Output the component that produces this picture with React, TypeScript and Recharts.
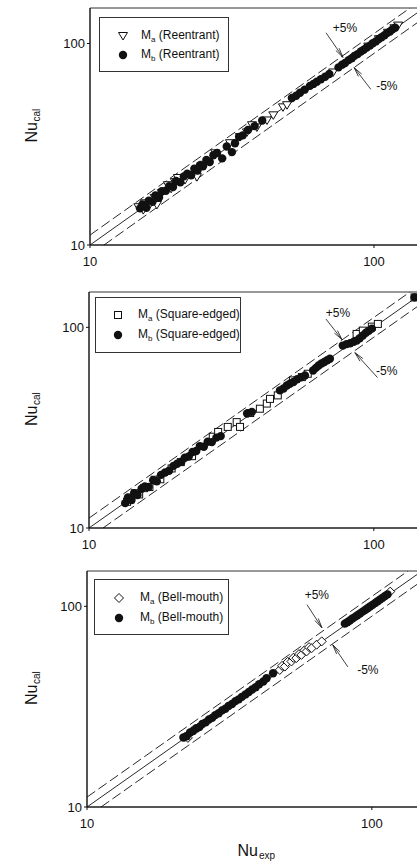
import React from 'react';
import {
  ScatterChart, Scatter, XAxis, YAxis, ReferenceLine, ReferenceDot, ReferenceArea, Legend,
} from 'recharts';

// Reentrant inlet
const maReX = [14.8, 15.4, 15.6, 16.3, 16.9, 17.2, 17.9, 18.8, 19.3, 19.9, 20.4, 21.6, 23.8, 25.2, 27.6, 31.1, 33.7, 35.7, 37.2, 38.7, 42.0, 44.2, 47.8, 49.4, 71.8, 95.5, 104, 112, 118, 121.6];
const maReY = [15.4, 14.9, 16.1, 16.0, 17.1, 15.8, 18.1, 19.8, 19.0, 20.5, 21.5, 21.0, 21.7, 25.0, 28.5, 32.0, 34.3, 36.2, 39.3, 38.3, 41.5, 44.0, 48.2, 49.4, 71.8, 96.5, 105, 113, 119, 122.7];
const mbReX = [15.0, 15.3, 15.8, 16.1, 16.6, 17.0, 17.5, 17.9, 18.5, 19.0, 19.6, 20.1, 20.8, 21.4, 22.0, 22.7, 23.3, 23.9, 24.4, 25.0, 25.7, 26.4, 27.2, 28.0, 29.2, 30.3, 31.6, 32.4, 33.5, 34.5, 36.0, 38.0, 40.4, 51.4, 53.2, 54.9, 57.0, 59.5, 61.2, 62.9, 65.0, 67.3, 69.6, 75.0, 77.2, 79.1, 81.4, 83.5, 85.3, 87.6, 89.9, 92.0, 94.3, 96.8, 99.0, 101.5, 104.0, 106.3, 108.9, 111.2, 113.8, 116.1, 118.7];
const mbReY = [15.2, 15.9, 15.3, 16.6, 16.4, 17.6, 17.2, 18.5, 18.6, 19.6, 19.4, 20.8, 20.5, 21.9, 22.6, 22.2, 23.9, 23.4, 24.9, 24.6, 26.4, 25.8, 27.9, 28.6, 26.9, 30.8, 28.9, 32.0, 34.4, 35.0, 37.2, 38.9, 41.5, 53.6, 55.0, 57.0, 59.0, 61.6, 63.0, 64.6, 66.4, 68.4, 70.6, 76.1, 78.5, 80.0, 82.7, 84.5, 86.8, 88.6, 91.2, 93.1, 95.5, 97.6, 100.3, 102.4, 105.2, 107.5, 109.8, 112.6, 114.7, 117.5, 119.6];

// Square-edged inlet
const maSqX = [13.6, 14.0, 14.5, 15.0, 15.6, 16.3, 17.0, 17.8, 19.5, 21.0, 23.0, 27.2, 28.4, 30.7, 33.0, 33.9, 36.8, 39.8, 42.1, 43.2, 46.0, 52.0, 55.9, 58.6, 87.0, 91.5, 98.4, 103.3, 139];
const maSqY = [13.5, 13.9, 14.9, 14.7, 15.8, 16.0, 17.4, 17.5, 19.8, 21.3, 22.8, 28.5, 30.1, 31.9, 33.7, 31.9, 37.4, 39.3, 41.7, 44.0, 45.8, 54.4, 56.5, 58.7, 92.7, 96.3, 100.8, 104.0, 141];
const mbSqX = [13.4, 13.7, 14.1, 14.4, 14.8, 15.3, 15.7, 16.2, 16.8, 17.3, 17.9, 18.5, 19.1, 19.8, 20.4, 21.1, 21.7, 22.4, 23.1, 23.8, 24.5, 25.3, 26.1, 27.0, 28.0, 29.0, 35.9, 37.3, 46.8, 48.2, 49.5, 50.7, 52.2, 53.8, 55.5, 57.3, 61.2, 62.6, 64.0, 65.5, 67.0, 68.6, 70.1, 77.8, 80.2, 82.6, 85.0, 87.1, 89.2, 91.5, 93.8, 96.0, 98.4, 139];
const mbSqY = [13.3, 14.2, 13.8, 14.9, 14.6, 15.7, 16.1, 16.0, 17.3, 17.1, 18.4, 18.9, 19.3, 20.4, 20.9, 21.4, 22.4, 22.7, 23.9, 24.2, 25.6, 25.4, 26.9, 26.8, 28.2, 28.7, 37.2, 37.9, 48.5, 49.6, 51.3, 52.3, 53.4, 55.1, 56.3, 57.5, 60.9, 62.8, 64.5, 66.0, 67.2, 68.5, 69.7, 81.1, 82.5, 83.3, 84.8, 85.9, 88.2, 91.0, 94.0, 96.1, 98.5, 141];

// Bell-mouth inlet
const maBmX = [22.1, 22.6, 23.4, 24.5, 47.5, 48.4, 49.5, 50.6, 52.2, 53.0, 54.3, 55.5, 56.6, 58.0, 59.0, 60.2, 61.5, 64.0, 66.7, 84.0, 97.0, 116.0];
const maBmY = [22.4, 22.1, 23.9, 24.8, 48.2, 50.5, 50.1, 52.8, 53.1, 55.4, 55.2, 57.8, 57.3, 60.4, 59.6, 62.6, 61.9, 64.4, 66.9, 85.2, 98.3, 118.4];
const mbBmX = [21.8, 22.4, 23.0, 23.6, 24.2, 24.8, 25.4, 26.1, 26.8, 27.5, 28.2, 29.0, 29.8, 30.6, 31.4, 32.3, 33.2, 34.1, 35.0, 36.0, 37.0, 38.0, 39.1, 40.2, 41.6, 42.7, 45.0, 80.4, 82.0, 83.7, 85.5, 87.3, 89.0, 90.9, 92.8, 94.7, 96.6, 98.6, 100.7, 102.8, 104.8, 106.9, 109.1, 111.3, 113.5];
const mbBmY = [22.2, 22.5, 23.5, 23.9, 24.7, 25.0, 25.9, 26.4, 27.3, 27.8, 28.7, 29.3, 30.3, 30.9, 31.9, 32.6, 33.7, 34.4, 35.4, 36.4, 37.4, 38.5, 39.5, 40.9, 42.2, 43.8, 46.4, 82.0, 83.3, 85.0, 86.9, 88.6, 90.2, 92.2, 94.1, 95.9, 97.9, 99.8, 101.9, 104.0, 106.1, 108.2, 110.3, 112.6, 114.7];

const axisTicks = [10, 100];
const domain: [number, number] = [10, 150];
const band = 1.12;

const FONT = '"Liberation Sans", Arial, Helvetica, sans-serif';
const INK = '#111';

const toPoints = (xs: number[], ys: number[]) => xs.map((x, i) => ({ x, y: ys[i] }));

const DownTriangle = ({ cx, cy }: any) => (
  <polygon points={`${cx - 4.5},${cy - 3.5} ${cx + 4.5},${cy - 3.5} ${cx},${cy + 4}`} fill="#fff" stroke={INK} strokeWidth={1} />
);
const Square = ({ cx, cy }: any) => (
  <rect x={cx - 3.5} y={cy - 3.5} width={7} height={7} fill="#fff" stroke={INK} strokeWidth={1} />
);
const Diamond = ({ cx, cy }: any) => (
  <polygon points={`${cx},${cy - 4.5} ${cx + 4.5},${cy} ${cx},${cy + 4.5} ${cx - 4.5},${cy}`} fill="#fff" stroke={INK} strokeWidth={1} />
);
const Dot = ({ cx, cy }: any) => <circle cx={cx} cy={cy} r={4.2} fill={INK} />;

const Arrow = ({ x1, y1, x2, y2 }: any) => {
  const a = Math.atan2(y2 - y1, x2 - x1);
  const len = 10;
  const spread = 0.2;
  const p1 = [x2 - len * Math.cos(a - spread), y2 - len * Math.sin(a - spread)];
  const p2 = [x2 - len * Math.cos(a + spread), y2 - len * Math.sin(a + spread)];
  return (
    <g stroke={INK} strokeWidth={0.8} fill="none">
      <line x1={x1} y1={y1} x2={x2} y2={y2} />
      <line x1={p1[0]} y1={p1[1]} x2={x2} y2={y2} />
      <line x1={p2[0]} y1={p2[1]} x2={x2} y2={y2} />
    </g>
  );
};

const YLabel = ({ viewBox }: any) => {
  const cy = viewBox.y + viewBox.height / 2;
  const ax = 37;
  return (
    <g fontFamily={FONT} fill={INK}>
      <text x={ax} y={cy + 16} transform={`rotate(-90 ${ax} ${cy + 16})`} fontSize={16}>Nu</text>
      <text x={ax + 3} y={cy - 5} transform={`rotate(-90 ${ax + 3} ${cy - 5})`} fontSize={10}>cal</text>
    </g>
  );
};

const XLabel = ({ viewBox }: any) => {
  const cx = viewBox.x + viewBox.width / 2;
  return (
    <g fontFamily={FONT} fill={INK}>
      <text x={cx - 17} y={viewBox.y + 49} fontSize={16}>Nu</text>
      <text x={cx + 4.5} y={viewBox.y + 52} fontSize={10}>exp</text>
    </g>
  );
};

interface PanelProps {
  top: number;
  height: number;
  left: number;
  right: number;
  bottom: number;
  ma: { x: number; y: number }[];
  mb: { x: number; y: number }[];
  shape: (p: any) => React.ReactElement;
  inlet: string;
  legend: { left: number; top: number; width: number; height: number; rows: [number, number]; sym: number; txt: number };
  plus: { text: [number, number]; from: [number, number]; to: [number, number] };
  minus: { text: [number, number]; from: [number, number]; to: [number, number] };
  xLabel?: boolean;
}

function LegendBox({ p }: { p: PanelProps }) {
  const lg = p.legend;
  const Shape = p.shape;
  const rows = [
    { sub: 'a', icon: <Shape cx={6} cy={6} /> },
    { sub: 'b', icon: <Dot cx={6} cy={6} /> },
  ];
  return (
    <div style={{ position: 'relative', width: lg.width, height: lg.height, border: `1px solid #333`, background: '#fff', boxSizing: 'border-box', fontFamily: FONT, fontSize: 12, color: INK }}>
      {rows.map((r, i) => (
        <React.Fragment key={r.sub}>
          <svg width={12} height={12} style={{ position: 'absolute', left: lg.sym - 6, top: lg.rows[i] - 6 }}>{r.icon}</svg>
          <div style={{ position: 'absolute', left: lg.txt, top: lg.rows[i] - 8, whiteSpace: 'nowrap', lineHeight: '14px' }}>
            M<span style={{ fontSize: 8, position: 'relative', top: 3 }}>{r.sub}</span> ({p.inlet})
          </div>
        </React.Fragment>
      ))}
    </div>
  );
}

function Panel(p: PanelProps) {
  const tickStyle = { fill: INK, fontSize: 13, fontFamily: FONT };
  return (
    <div style={{ position: 'absolute', left: 0, top: p.top }}>
      <ScatterChart width={440} height={p.height} margin={{ top: 8, right: p.right, bottom: p.bottom, left: 16 }}>
        <XAxis
          type="number" dataKey="x" scale="log" domain={domain} ticks={axisTicks} allowDataOverflow
          height={20} tickSize={3} tickMargin={9} tick={tickStyle}
          axisLine={{ stroke: INK }} tickLine={{ stroke: INK }}
          label={p.xLabel ? { content: XLabel } : undefined}
        />
        <YAxis
          type="number" dataKey="y" scale="log" domain={domain} ticks={axisTicks} allowDataOverflow
          width={p.left - 16} tickSize={3} tickMargin={2} tick={tickStyle}
          axisLine={{ stroke: INK }} tickLine={{ stroke: INK }}
          label={{ content: YLabel }}
        />
        <ReferenceArea x1={10} x2={150} y1={10} y2={150} fill="none" stroke="#333" strokeWidth={1} />
        <ReferenceLine segment={[{ x: 10, y: 10 }, { x: 150, y: 150 }]} stroke={INK} strokeWidth={0.9} />
        <ReferenceLine segment={[{ x: 10, y: 10 * band }, { x: 150 / band, y: 150 }]} stroke={INK} strokeWidth={0.9} strokeDasharray="10 4" />
        <ReferenceLine segment={[{ x: 10 * band, y: 10 }, { x: 150, y: 150 / band }]} stroke={INK} strokeWidth={0.9} strokeDasharray="10 4" />
        <ReferenceLine segment={[{ x: p.plus.from[0], y: p.plus.from[1] }, { x: p.plus.to[0], y: p.plus.to[1] }]} shape={Arrow} />
        <ReferenceLine segment={[{ x: p.minus.from[0], y: p.minus.from[1] }, { x: p.minus.to[0], y: p.minus.to[1] }]} shape={Arrow} />
        <ReferenceDot x={p.plus.text[0]} y={p.plus.text[1]} r={0} fill="none" stroke="none"
          label={{ value: '+5%', position: 'center', fontSize: 12, fill: INK, fontFamily: FONT }} />
        <ReferenceDot x={p.minus.text[0]} y={p.minus.text[1]} r={0} fill="none" stroke="none"
          label={{ value: '-5%', position: 'center', fontSize: 12, fill: INK, fontFamily: FONT }} />
        <Scatter name="Ma" data={p.ma} shape={p.shape} isAnimationActive={false} />
        <Scatter name="Mb" data={p.mb} shape={Dot} isAnimationActive={false} />
        <Legend
          layout="vertical" align="center" verticalAlign="middle"
          wrapperStyle={{ left: p.legend.left, top: p.legend.top, width: p.legend.width, height: p.legend.height }}
          content={() => <LegendBox p={p} />}
        />
      </ScatterChart>
    </div>
  );
}

export default function App() {
  return (
    <div style={{ position: 'fixed', left: 0, top: 0, width: 417, height: 863, overflow: 'hidden', background: '#fff' }}>
      <Panel
        top={0} height={275} left={90} right={16} bottom={10}
        ma={toPoints(maReX, maReY)} mb={toPoints(mbReX, mbReY)} shape={DownTriangle} inlet="Reentrant"
        legend={{ left: 99, top: 17, width: 130, height: 55, rows: [18, 37], sym: 23, txt: 41 }}
        plus={{ text: [79, 120], from: [67.8, 113], to: [77.8, 85.3] }}
        minus={{ text: [111, 62], from: [97.5, 59.2], to: [85.1, 76.0] }}
      />
      <Panel
        top={284} height={274} left={89} right={16} bottom={10}
        ma={toPoints(maSqX, maSqY)} mb={toPoints(mbSqX, mbSqY)} shape={Square} inlet="Square-edged"
        legend={{ left: 95, top: 13, width: 146, height: 56, rows: [17, 37], sym: 22, txt: 42 }}
        plus={{ text: [74.8, 118], from: [67.9, 110], to: [77.3, 86.9] }}
        minus={{ text: [111, 60.9], from: [103, 56.2], to: [85.8, 74.8] }}
      />
      <Panel
        top={563} height={300} left={87} right={18} bottom={36}
        ma={toPoints(maBmX, maBmY)} mb={toPoints(mbBmX, mbBmY)} shape={Diamond} inlet="Bell-mouth"
        legend={{ left: 94, top: 16, width: 135, height: 56, rows: [18, 38], sym: 24, txt: 45 }}
        plus={{ text: [64.1, 114], from: [59.2, 101.9], to: [66.8, 78.2] }}
        minus={{ text: [96.8, 48.2], from: [82.4, 49.9], to: [72.9, 64.3] }}
        xLabel
      />
    </div>
  );
}
